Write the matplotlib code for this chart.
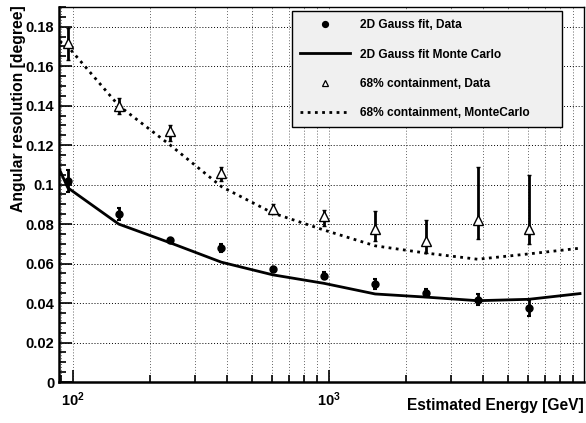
import math
import matplotlib
matplotlib.use("Agg")
import matplotlib.pyplot as plt
from matplotlib.lines import Line2D
from matplotlib.ticker import LogLocator, MultipleLocator, FuncFormatter, NullFormatter

plt.rcParams['font.family'] = ['Liberation Sans', 'DejaVu Sans']
plt.rcParams['font.weight'] = 'bold'
plt.rcParams['mathtext.fontset'] = 'custom'
plt.rcParams['mathtext.rm'] = 'Liberation Sans:bold'
plt.rcParams['mathtext.it'] = 'Liberation Sans:bold'
plt.rcParams['mathtext.bf'] = 'Liberation Sans:bold'

# energy bins [GeV]
energy = [95.5, 151, 240, 380, 603, 955, 1514, 2399, 3802, 6026]

# 2D Gauss fit, data
gauss_data = [0.102, 0.085, 0.0717, 0.0678, 0.0571, 0.0538, 0.0495, 0.045, 0.0416, 0.0374]
gauss_err = [0.0055, 0.003, 0.0015, 0.002, 0.001, 0.0018, 0.0025, 0.002, 0.0028, 0.004]

# 68% containment, data
cont_data = [0.1717, 0.1396, 0.127, 0.1058, 0.0876, 0.0842, 0.0774, 0.0712, 0.0822, 0.0774]
cont_err_lo = [0.0087, 0.0036, 0.005, 0.0038, 0.0026, 0.0054, 0.0059, 0.0059, 0.0098, 0.0074]
cont_err_hi = [0.0078, 0.0044, 0.003, 0.0032, 0.0024, 0.003, 0.009, 0.011, 0.0265, 0.0276]

# Monte Carlo curves
mc_energy = [60.3, 95.5, 151, 240, 380, 603, 955, 1514, 2399, 3802, 6026, 9550]
gauss_mc = [0.155, 0.0984, 0.080, 0.0705, 0.0607, 0.0543, 0.050, 0.0446, 0.043, 0.0412, 0.0419, 0.0448]
cont_mc = [0.186, 0.170, 0.140, 0.120, 0.099, 0.0856, 0.077, 0.069, 0.0653, 0.0622, 0.0649, 0.0678]

fig = plt.figure(figsize=(5.86, 4.23), dpi=100)
ax = fig.add_axes([59/586, 1-382/423, 525/586, 375/423])

ax.plot(mc_energy, gauss_mc, color='black', lw=2.0, zorder=3)
ax.plot(mc_energy, cont_mc, color='black', lw=2.0, linestyle=(0, (1, 1.6)), zorder=3)
ax.errorbar(energy, gauss_data, yerr=gauss_err, fmt='o', color='black', ms=5,
            elinewidth=2, capsize=1.5, capthick=1.5, zorder=4)
ax.errorbar(energy, cont_data, yerr=[cont_err_lo, cont_err_hi], fmt='^', color='black',
            mfc='white', mec='black', ms=7, mew=1, elinewidth=2, capsize=1.5, capthick=1.5,
            zorder=4)

ax.set_xscale('log')
ax.set_xlim(88.2, 9900)
ax.set_ylim(0, 0.19)

ax.xaxis.set_major_locator(LogLocator(base=10))
ax.xaxis.set_minor_locator(LogLocator(base=10, subs=range(2, 10)))
ax.xaxis.set_major_formatter(FuncFormatter(lambda v, p: r'$10^{%d}$' % round(math.log10(v))))
ax.xaxis.set_minor_formatter(NullFormatter())
ax.yaxis.set_major_locator(MultipleLocator(0.02))
ax.yaxis.set_minor_locator(MultipleLocator(0.005))
ax.yaxis.set_major_formatter(FuncFormatter(lambda v, p: ('%g' % round(v, 3))))

ax.tick_params(which='both', direction='in', top=False, right=False, labelsize=10.5, width=1.2)
ax.tick_params(which='major', length=9)
ax.tick_params(which='minor', length=5)
ax.tick_params(axis='x', pad=6)

ax.grid(True, which='major', axis='y', color='black', lw=0.7, linestyle=(0, (1, 2)))
ax.grid(True, which='both', axis='x', color='#666666', lw=0.7, linestyle=(0, (1, 2)))

for s in ['left', 'bottom']:
    ax.spines[s].set_linewidth(1.8)
for s in ['top', 'right']:
    ax.spines[s].set_linewidth(1.0)

ax.set_xlabel('Estimated Energy [GeV]', fontsize=11.2, fontweight='bold', ha='right', va='top')
ax.xaxis.set_label_coords(1.0, -0.042)
ax.set_ylabel('Angular resolution [degree]', fontsize=11.3, fontweight='bold', ha='right', va='center')
ax.yaxis.set_label_coords(-0.078, 1.005)

handles = [
    Line2D([], [], marker='o', color='black', ls='none', ms=4.2),
    Line2D([], [], color='black', lw=2.0),
    Line2D([], [], marker='^', color='black', mfc='white', ls='none', ms=5, mew=0.9),
    Line2D([], [], color='black', lw=2.0, linestyle=(0, (1, 1.6))),
]
labels = ['2D Gauss fit, Data', '2D Gauss fit Monte Carlo',
          '68% containment, Data', '68% containment, MonteCarlo']
leg = ax.legend(handles, labels,
                loc='upper left', bbox_to_anchor=(0.444, 0.675, 0.514, 0.314), mode='expand',
                fontsize=8.55, frameon=True, fancybox=False, edgecolor='black', facecolor='#f0f0f0',
                framealpha=1, borderpad=0.7, labelspacing=1.45, handlelength=4.2, handletextpad=0.85,
                borderaxespad=0)
leg.get_frame().set_linewidth(1.0)
for t in leg.get_texts():
    t.set_fontweight('bold')

fig.savefig('out.png', dpi=100)
